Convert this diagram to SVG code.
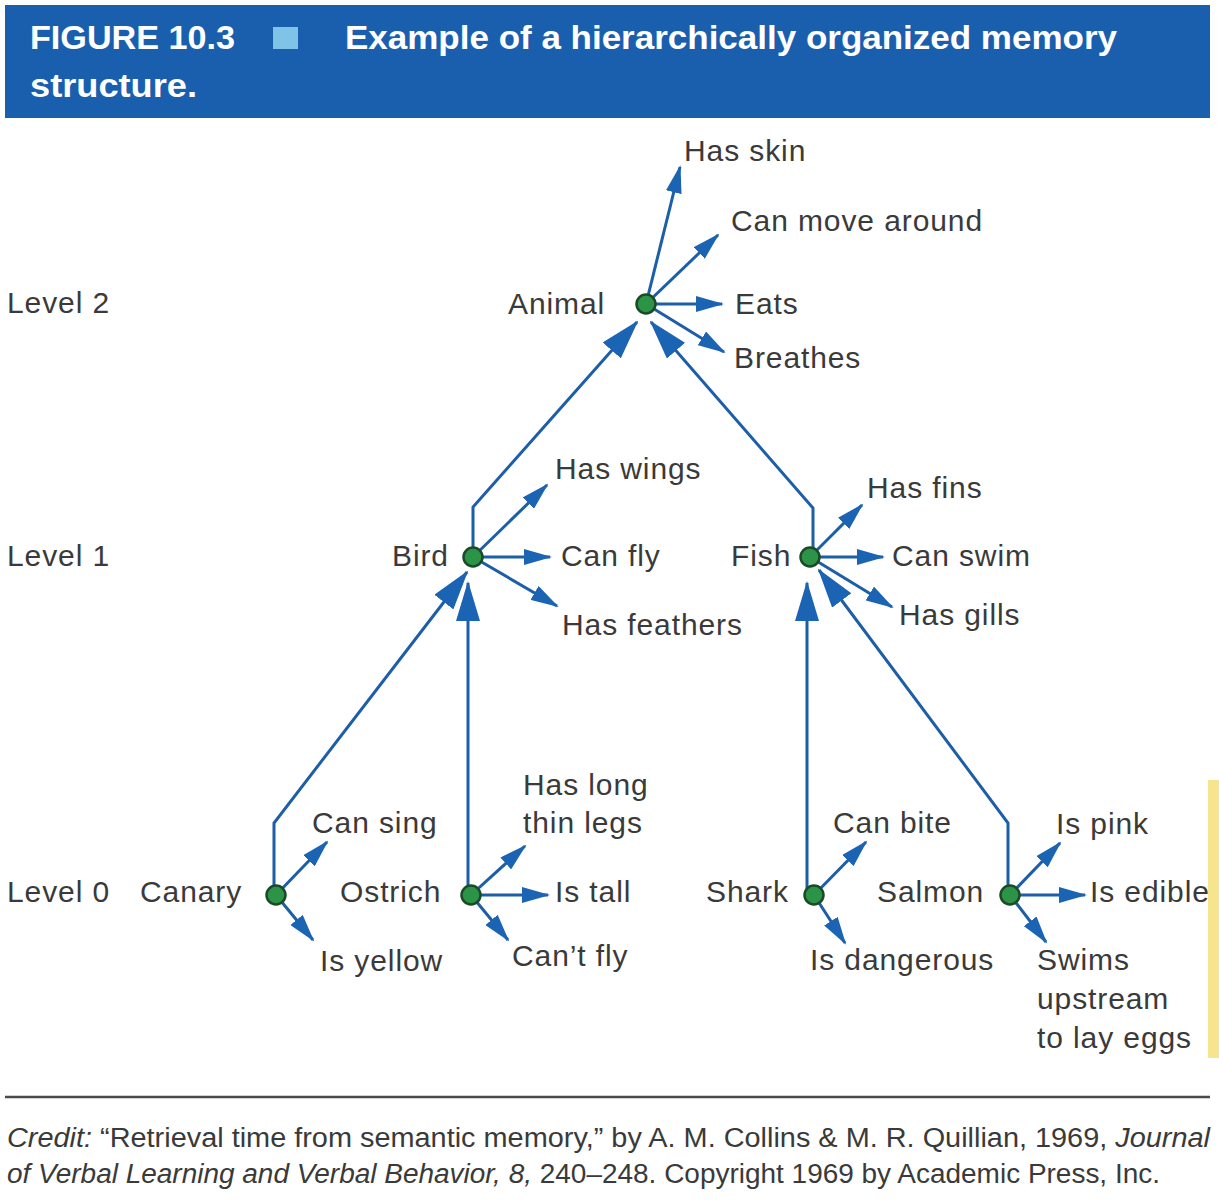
<svg xmlns="http://www.w3.org/2000/svg" width="1219" height="1200" viewBox="0 0 1219 1200">
<style>
.lbl{font-family:"Liberation Sans",Arial,sans-serif;font-size:30px;fill:#3a3a3a;letter-spacing:0.9px}
.hdr{font-family:"Liberation Sans",Arial,sans-serif;font-size:34px;font-weight:bold;fill:#ffffff}
.cr{font-family:"Liberation Sans",Arial,sans-serif;font-size:27px;fill:#3a3a3a}
.it{font-style:italic}
.big{fill:none;stroke:#1c5ea8;stroke-width:3;marker-end:url(#bigArrow)}
.sm{fill:none;stroke:#1c5ea8;stroke-width:3;marker-end:url(#smArrow)}
.node{fill:#2c9447;stroke:#1b4a29;stroke-width:2.5}
</style>
<defs>
<marker id="bigArrow" markerUnits="userSpaceOnUse" viewBox="0 0 40 24" refX="38" refY="12" markerWidth="40" markerHeight="24" orient="auto">
<path d="M0,0 L40,12 L0,24 z" fill="#1b63b3"/>
</marker>
<marker id="smArrow" markerUnits="userSpaceOnUse" viewBox="0 0 28 16" refX="26" refY="8" markerWidth="28" markerHeight="16" orient="auto">
<path d="M0,0 L28,8 L0,16 z" fill="#1b63b3"/>
</marker>
</defs>
<rect width="1219" height="1200" fill="#ffffff"/>
<g id="header">
<rect x="5" y="5" width="1205" height="113" fill="#1a5fae"/>
<text class="hdr" x="30" y="49" textLength="205" lengthAdjust="spacingAndGlyphs">FIGURE 10.3</text>
<rect x="273" y="27" width="25" height="22" fill="#7fc4e6"/>
<text class="hdr" x="345" y="49" textLength="772" lengthAdjust="spacingAndGlyphs">Example of a hierarchically organized memory</text>
<text class="hdr" x="30" y="97" textLength="167" lengthAdjust="spacingAndGlyphs">structure.</text>
</g>
<g id="levels">
<text class="lbl" x="7" y="313">Level 2</text>
<text class="lbl" x="7" y="566">Level 1</text>
<text class="lbl" x="7" y="902">Level 0</text>
</g>
<g id="connectors">
<path class="big" d="M274,895 L274,823 L467,572"/>
<path class="big" d="M468,895 L468,583"/>
<path class="big" d="M473,557 L473,507 L637,322"/>
<path class="big" d="M813,557 L813,508 L651,322"/>
<path class="big" d="M807,895 L807,583"/>
<path class="big" d="M1008,895 L1008,823 L819,570"/>
<path class="sm" d="M646,304 L680,167"/>
<path class="sm" d="M646,304 L718,235"/>
<path class="sm" d="M646,304 L722,304"/>
<path class="sm" d="M646,304 L724,352"/>
<path class="sm" d="M473,557 L547,485"/>
<path class="sm" d="M473,557 L550,557"/>
<path class="sm" d="M473,557 L557,606"/>
<path class="sm" d="M810,557 L862,505"/>
<path class="sm" d="M810,557 L883,557"/>
<path class="sm" d="M810,557 L892,607"/>
<path class="sm" d="M276,895 L327,842"/>
<path class="sm" d="M276,895 L313,940"/>
<path class="sm" d="M471,895 L525,846"/>
<path class="sm" d="M471,895 L548,895"/>
<path class="sm" d="M471,895 L508,940"/>
<path class="sm" d="M814,895 L866,842"/>
<path class="sm" d="M814,895 L845,943"/>
<path class="sm" d="M1010,895 L1060,843"/>
<path class="sm" d="M1010,895 L1085,895"/>
<path class="sm" d="M1010,895 L1046,942"/>
</g>
<g id="node-animal">
<circle class="node" cx="646" cy="304" r="9.5"/>
<text class="lbl" x="508" y="314">Animal</text>
<text class="lbl" x="684" y="161">Has skin</text>
<text class="lbl" x="731" y="231">Can move around</text>
<text class="lbl" x="735" y="314">Eats</text>
<text class="lbl" x="734" y="368">Breathes</text>
</g>
<g id="node-bird">
<circle class="node" cx="473" cy="557" r="9.5"/>
<text class="lbl" x="392" y="566">Bird</text>
<text class="lbl" x="555" y="479">Has wings</text>
<text class="lbl" x="561" y="566">Can fly</text>
<text class="lbl" x="562" y="635">Has feathers</text>
</g>
<g id="node-fish">
<circle class="node" cx="810" cy="557" r="9.5"/>
<text class="lbl" x="731" y="566">Fish</text>
<text class="lbl" x="867" y="498">Has fins</text>
<text class="lbl" x="892" y="566">Can swim</text>
<text class="lbl" x="899" y="625">Has gills</text>
</g>
<g id="node-canary">
<circle class="node" cx="276" cy="895" r="9.5"/>
<text class="lbl" x="140" y="902">Canary</text>
<text class="lbl" x="312" y="833">Can sing</text>
<text class="lbl" x="320" y="971">Is yellow</text>
</g>
<g id="node-ostrich">
<circle class="node" cx="471" cy="895" r="9.5"/>
<text class="lbl" x="340" y="902">Ostrich</text>
<text class="lbl" x="523" y="795">Has long</text>
<text class="lbl" x="523" y="833">thin legs</text>
<text class="lbl" x="555" y="902">Is tall</text>
<text class="lbl" x="512" y="966">Can’t fly</text>
</g>
<g id="node-shark">
<circle class="node" cx="814" cy="895" r="9.5"/>
<text class="lbl" x="706" y="902">Shark</text>
<text class="lbl" x="833" y="833">Can bite</text>
<text class="lbl" x="810" y="970">Is dangerous</text>
</g>
<g id="node-salmon">
<circle class="node" cx="1010" cy="895" r="9.5"/>
<text class="lbl" x="877" y="902">Salmon</text>
<text class="lbl" x="1056" y="834">Is pink</text>
<text class="lbl" x="1090" y="902">Is edible</text>
<text class="lbl" x="1037" y="970">Swims</text>
<text class="lbl" x="1037" y="1009">upstream</text>
<text class="lbl" x="1037" y="1048">to lay eggs</text>
</g>
<rect x="1208" y="780" width="11" height="278" fill="#f7e58e"/>
<g id="credit">
<line x1="5" y1="1097" x2="1210" y2="1097" stroke="#4a4a4a" stroke-width="2.5"/>
<text class="cr" x="7" y="1147" textLength="1203" lengthAdjust="spacingAndGlyphs"><tspan class="it">Credit:</tspan> “Retrieval time from semantic memory,” by A. M. Collins &amp; M. R. Quillian, 1969, <tspan class="it">Journal</tspan></text>
<text class="cr" x="7" y="1183" textLength="1153" lengthAdjust="spacingAndGlyphs"><tspan class="it">of Verbal Learning and Verbal Behavior, 8,</tspan> 240–248. Copyright 1969 by Academic Press, Inc.</text>
</g>
</svg>
